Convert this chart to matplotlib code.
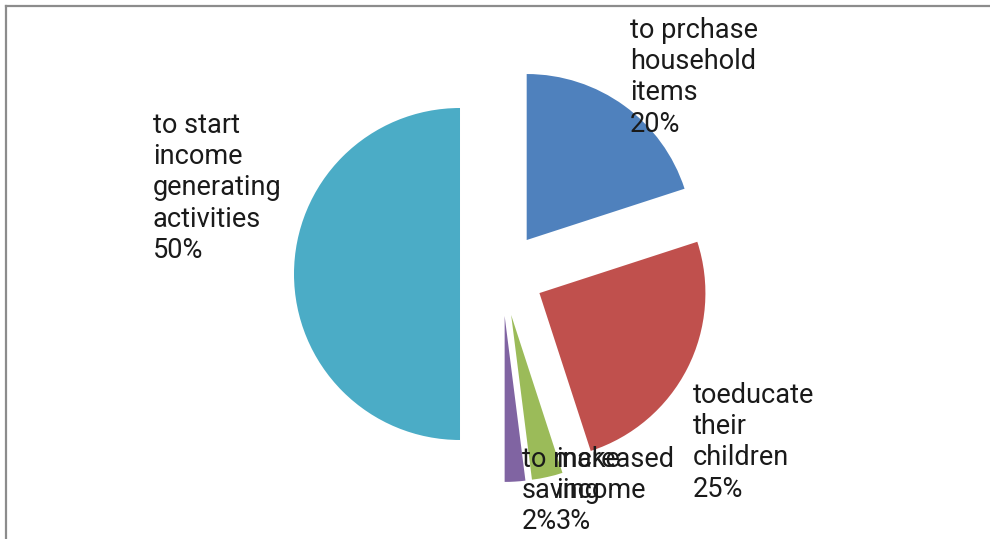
import matplotlib
matplotlib.use('Agg')
import matplotlib.pyplot as plt
from matplotlib.lines import Line2D

# data (clockwise from 12 o'clock)
names = ['to prchase\nhousehold\nitems', 'toeducate\ntheir\nchildren',
         'increased\nincome', 'to make\nsaving',
         'to start\nincome\ngenerating\nactivities']
shares = [20, 25, 3, 2, 50]
colors = ['#4F81BD', '#C0504D', '#9BBB59', '#8064A2', '#4BACC6']

# label anchors in pixel coords (left, top)
lab_x = [630, 693, 556, 522, 153]
lab_y = [17, 382, 446, 446, 112]

W, H = 990, 539
R = 166
fig = plt.figure(figsize=(W / 100, H / 100), dpi=100)
ax = fig.add_axes([0, 0, 1, 1])

# pie's explode offset is in data units, so scale the fraction by the radius
ax.pie(shares, colors=colors, startangle=90, counterclock=False,
       explode=[0.253 * R] * len(shares), center=(502, H - 274), radius=R,
       wedgeprops=dict(linewidth=0))
ax.set_xlim(0, W)
ax.set_ylim(0, H)
ax.set_aspect('equal')
ax.axis('off')

for n, v, x, y in zip(names, shares, lab_x, lab_y):
    ax.text(x, H - y, '%s\n%d%%' % (n, v), ha='left', va='top',
            fontsize=19.5, family=['Roboto', 'DejaVu Sans'],
            color='#1a1a1a', linespacing=1.2)

# outer frame (top and left edges only visible)
fig.add_artist(Line2D([5.5 / W, 1], [1 - 5.5 / H, 1 - 5.5 / H],
                      transform=fig.transFigure, color='#8c8c8c', lw=1.6))
fig.add_artist(Line2D([5.5 / W, 5.5 / W], [0, 1 - 5.5 / H],
                      transform=fig.transFigure, color='#8c8c8c', lw=1.6))

fig.savefig('out.png', dpi=100)
